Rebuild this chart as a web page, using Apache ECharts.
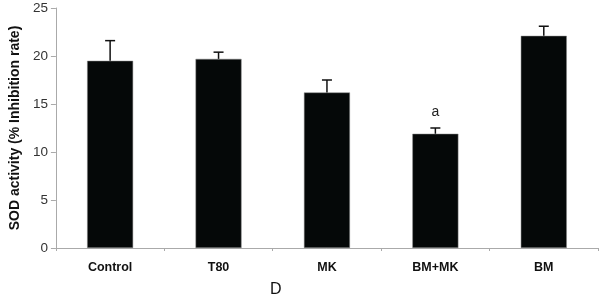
<!DOCTYPE html>
<html>
<head>
<meta charset="utf-8">
<script src="https://cdn.jsdelivr.net/npm/echarts@6/dist/echarts.min.js"></script>
<style>
  html, body { margin: 0; padding: 0; background: #fff; }
  #chart { width: 600px; height: 295px; }
</style>
</head>
<body>
<div id="chart"></div>
<script>
  // data
  var categories = ['Control', 'T80', 'MK', 'BM+MK', 'BM'];
  var means = [19.5, 19.7, 16.2, 11.9, 22.1];
  var errors = [2.1, 0.7, 1.3, 0.6, 1.0];
  var sigLabels = ['', '', '', 'a', ''];
  var yTicks = [0, 5, 10, 15, 20, 25];

  var chart = echarts.init(document.getElementById('chart'));

  var errData = means.map(function (m, i) {
    return [i, m, m + errors[i], sigLabels[i]];
  });

  var option = {
    animation: false,
    title: {
      text: 'D',
      left: 265,
      top: 277,
      textStyle: { fontFamily: 'Liberation Sans', fontSize: 16, fontWeight: 'normal', color: '#111' }
    },
    grid: { left: 43, right: 2, top: 8, bottom: 47 },
    xAxis: {
      type: 'category',
      data: categories,
      axisLine: { lineStyle: { color: '#aaa', width: 1 } },
      axisTick: { show: true, length: 3, lineStyle: { color: '#aaa' } },
      axisLabel: {
        margin: 13,
        color: '#111',
        fontFamily: 'Liberation Sans',
        fontWeight: 'bold',
        fontSize: 12.5
      }
    },
    yAxis: {
      type: 'value',
      min: yTicks[0],
      max: yTicks[yTicks.length - 1],
      interval: 5,
      name: 'SOD activity (% Inhibition rate)',
      nameLocation: 'middle',
      nameGap: 31,
      nameRotate: 90,
      nameTextStyle: { fontFamily: 'Liberation Sans', fontWeight: 'bold', fontSize: 14, color: '#111' },
      axisLine: { show: true, lineStyle: { color: '#aaa', width: 1 } },
      axisTick: { show: true, length: 5, lineStyle: { color: '#aaa' } },
      splitLine: { show: false },
      axisLabel: { margin: 8, color: '#333', fontFamily: 'Liberation Sans', fontSize: 13.5 }
    },
    series: [
      {
        type: 'bar',
        data: means,
        barWidth: 46,
        itemStyle: { color: '#050808', borderColor: '#888', borderWidth: 0.5 }
      },
      {
        type: 'custom',
        data: errData,
        z: 10,
        renderItem: function (params, api) {
          var x = api.value(0);
          var lo = api.coord([x, api.value(1)]);
          var hi = api.coord([x, api.value(2)]);
          var half = 5;
          var style = { stroke: '#111', lineWidth: 1.5 };
          var children = [
            { type: 'line', shape: { x1: lo[0], y1: lo[1], x2: hi[0], y2: hi[1] }, style: style },
            { type: 'line', shape: { x1: hi[0] - half, y1: hi[1], x2: hi[0] + half, y2: hi[1] }, style: style }
          ];
          var lab = api.value(3);
          if (lab) {
            children.push({
              type: 'text',
              style: {
                text: lab,
                x: hi[0],
                y: hi[1] - 16,
                align: 'center',
                verticalAlign: 'middle',
                fontFamily: 'Liberation Sans',
                fontSize: 14,
                fill: '#222'
              }
            });
          }
          return { type: 'group', children: children };
        }
      }
    ]
  };

  chart.setOption(option);
</script>
</body>
</html>
